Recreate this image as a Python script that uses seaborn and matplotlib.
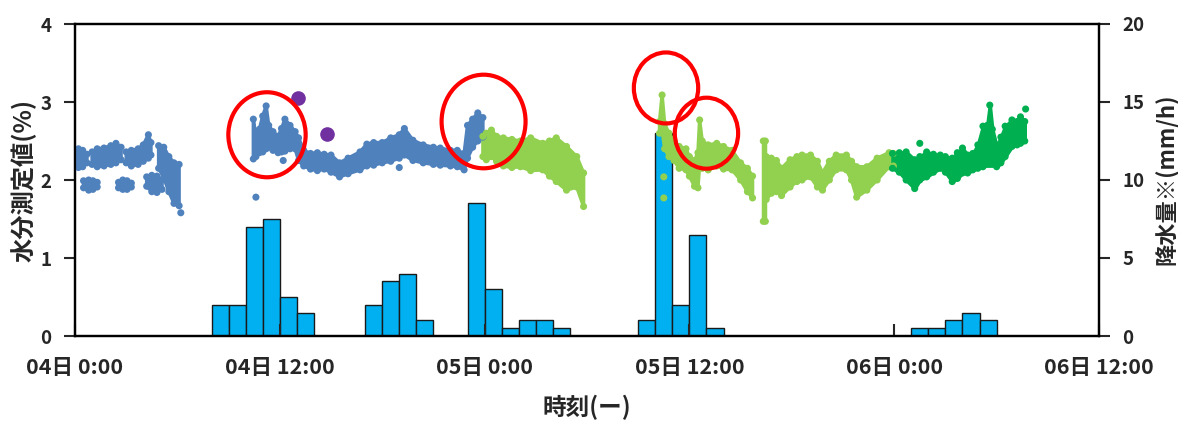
import numpy as np
import pandas as pd
import matplotlib
matplotlib.use("Agg")
import matplotlib.pyplot as plt
import seaborn as sns
from matplotlib.patches import Ellipse

nan = np.nan

# hourly rainfall (bar left edge in hours from 04日 0:00, mm/h)
rain_hour = [8, 9, 10, 11, 12, 13,
             17, 18, 19, 20,
             23, 24, 25, 26, 27, 28,
             33, 34, 35, 36, 37,
             49, 50, 51, 52, 53]
rain_mm = [2.0, 2.0, 7.0, 7.5, 2.5, 1.5,
           2.0, 3.5, 4.0, 1.0,
           8.5, 3.0, 0.5, 1.0, 1.0, 0.5,
           1.0, 13.0, 2.0, 6.5, 0.5,
           0.5, 0.5, 1.0, 1.5, 1.0]

# moisture readings (%): band of scattered points, lower / upper edge; NaN splits blobs
blue_t = [0.0, 0.2, 0.45, 0.7, nan,
          0.5, 0.8, 1.05, 1.3, nan,
          1.0, 1.3, 1.7, 2.1, 2.4, 2.7, nan,
          2.55, 2.8, 3.05, 3.3, nan,
          3.0, 3.3, 3.7, 4.0, 4.3, 4.45, nan,
          4.2, 4.5, 4.8, 5.1, nan,
          4.9, 5.2, 5.5, 5.8, 6.1, nan,
          10.45, 10.6, 10.8, 11.0, 11.2, 11.35, 11.6, 11.9, 12.1, 12.3, 12.6,
          12.9, 13.1, 13.4, 13.8, 14.2, 14.6, 15.0, 15.5, 16.0, 16.7, 17.1,
          17.5, 18.0, 18.5, 19.0, 19.3, 19.8, 20.4, 21.0, 21.4, 22.0, 22.4,
          22.8, 23.0, 23.3, 23.6, 23.9]
blue_lo = [2.18, 2.16, 2.17, 2.22, nan,
           1.90, 1.87, 1.88, 1.91, nan,
           2.20, 2.17, 2.18, 2.20, 2.22, 2.26, nan,
           1.90, 1.88, 1.88, 1.91, nan,
           2.22, 2.18, 2.20, 2.24, 2.28, 2.32, nan,
           1.92, 1.85, 1.84, 1.88, nan,
           2.15, 2.03, 1.85, 1.70, 1.67, nan,
           2.27, 2.30, 2.35, 2.36, 2.40, 2.42, 2.38, 2.35, 2.36, 2.37, 2.40,
           2.40, 2.25, 2.18, 2.14, 2.12, 2.14, 2.10, 2.04, 2.08, 2.13, 2.18,
           2.19, 2.22, 2.24, 2.28, 2.32, 2.25, 2.22, 2.20, 2.19, 2.18, 2.17,
           2.13, 2.28, 2.42, 2.50, 2.55]
blue_hi = [2.36, 2.40, 2.38, 2.33, nan,
           1.99, 2.00, 1.99, 1.97, nan,
           2.36, 2.40, 2.41, 2.44, 2.47, 2.42, nan,
           1.97, 2.00, 1.99, 1.96, nan,
           2.36, 2.38, 2.40, 2.45, 2.58, 2.48, nan,
           2.04, 2.06, 2.05, 2.00, nan,
           2.44, 2.42, 2.30, 2.22, 2.20, nan,
           2.78, 2.55, 2.65, 2.82, 2.95, 2.70, 2.62, 2.56, 2.66, 2.78, 2.70,
           2.62, 2.54, 2.38, 2.34, 2.35, 2.33, 2.32, 2.22, 2.28, 2.36, 2.46,
           2.48, 2.48, 2.54, 2.58, 2.66, 2.51, 2.45, 2.42, 2.41, 2.38, 2.38,
           2.34, 2.70, 2.78, 2.86, 2.80]
blue_extra_t = [6.2, 10.6, 12.2, 19.0]
blue_extra_v = [1.58, 1.78, 2.25, 2.16]

lgreen_t = [23.9, 24.1, 24.4, 24.7, 25.1, 25.6, 26.1, 26.7, 27.4, 27.8, 28.2,
            28.8, 29.4, 29.8, nan,
            34.25, 34.4, 34.55, 34.8, 35.1, 35.4, 35.8, 36.0, 36.3, 36.5, 36.6,
            36.75, 37.1, 37.6, 38.0, 38.5, 39.0, 39.4, 39.7, nan,
            40.33, 40.45, nan,
            40.5, 40.8, 41.1, 41.4, 41.9, 42.3, 42.6, 43.1, 43.5, 43.8, 44.2,
            44.6, 45.2, 45.5, 45.8, 46.4, 47.0, 47.7, 47.95]
lgreen_lo = [2.30, 2.26, 2.30, 2.24, 2.18, 2.16, 2.17, 2.12, 2.13, 2.05, 1.98,
             1.87, 1.91, 1.66, nan,
             2.60, 2.64, 2.40, 2.30, 2.25, 2.15, 2.13, 2.05, 1.92, 1.90, 2.20,
             2.15, 2.13, 2.18, 2.14, 2.13, 2.00, 1.85, 1.77, nan,
             1.47, 1.47, nan,
             1.75, 1.83, 1.85, 1.80, 1.91, 1.98, 2.00, 2.04, 1.91, 1.87, 2.00,
             2.13, 2.13, 2.00, 1.78, 1.87, 2.00, 2.17, 2.18]
lgreen_hi = [2.56, 2.60, 2.64, 2.56, 2.54, 2.52, 2.50, 2.54, 2.47, 2.50, 2.54,
             2.43, 2.30, 2.09, nan,
             2.75, 3.09, 2.72, 2.60, 2.50, 2.43, 2.40, 2.30, 2.25, 2.35, 2.77,
             2.50, 2.45, 2.47, 2.43, 2.38, 2.22, 2.15, 2.05, nan,
             2.50, 2.50, nan,
             2.30, 2.28, 2.25, 2.15, 2.26, 2.30, 2.32, 2.32, 2.24, 2.09, 2.24,
             2.32, 2.32, 2.24, 2.17, 2.17, 2.28, 2.35, 2.34]
lgreen_extra_t = [34.5, 34.5]
lgreen_extra_v = [2.04, 1.77]

dgreen_t = [47.9, 48.3, 48.7, 49.2, 49.5, 49.9, 50.3, 50.7, 51.0, 51.4, 51.7,
            52.0, 52.3, 52.6, 52.9, 53.2, 53.45, 53.6, 53.75, 54.0, 54.25, 54.5,
            54.9, 55.2, 55.4, 55.65]
dgreen_lo = [2.15, 2.10, 2.00, 1.89, 2.00, 2.04, 2.10, 2.15, 2.10, 1.98, 2.02,
             2.09, 2.09, 2.13, 2.15, 2.17, 2.20, 2.20, 2.20, 2.17, 2.22, 2.30,
             2.43, 2.45, 2.47, 2.50]
dgreen_hi = [2.34, 2.35, 2.36, 2.26, 2.30, 2.36, 2.33, 2.32, 2.30, 2.28, 2.35,
             2.41, 2.32, 2.34, 2.45, 2.69, 2.70, 2.96, 2.65, 2.43, 2.55, 2.69,
             2.77, 2.75, 2.81, 2.75]
dgreen_extra_t = [49.5, 55.7]
dgreen_extra_v = [2.47, 2.91]

purple_t = [13.08, 14.74]
purple_v = [3.05, 2.59]

xtick_hours = [0, 12, 24, 36, 48, 60]
xtick_labels = ["04日 0:00", "04日 12:00", "05日 0:00", "05日 12:00",
                "06日 0:00", "06日 12:00"]

# red circles: (center hour, center %, width h, height %)
circles = [(11.25, 2.58, 4.53, 1.09), (23.94, 2.75, 4.92, 1.20),
           (34.63, 3.18, 3.77, 0.91), (37.0, 2.60, 3.71, 0.91)]

colors = {"blue": "#4F81BD", "lgreen": "#92D050", "dgreen": "#00B050"}

series = {
    "blue": (blue_t, blue_lo, blue_hi, blue_extra_t, blue_extra_v),
    "lgreen": (lgreen_t, lgreen_lo, lgreen_hi, lgreen_extra_t, lgreen_extra_v),
    "dgreen": (dgreen_t, dgreen_lo, dgreen_hi, dgreen_extra_t, dgreen_extra_v),
}

rows = []
for name, (t, lo, hi, et, ev) in series.items():
    for a, b, c in zip(t, lo, hi):
        if not np.isnan(a):
            rows.append((a, b, name))
            rows.append((a, c, name))
    for a, b in zip(et, ev):
        rows.append((a, b, name))
pts = pd.DataFrame(rows, columns=["hour", "value", "series"])

sns.set_style("ticks")
plt.rcParams["font.family"] = ["Noto Sans CJK JP", "DejaVu Sans"]
plt.rcParams["font.weight"] = "bold"

fig = plt.figure(figsize=(11.78, 4.22), dpi=100)
ax = fig.add_axes([75 / 1178, 86 / 422, 1024 / 1178, 312 / 422])
ax2 = ax.twinx()
ax.set_zorder(ax2.get_zorder() + 1)
ax.patch.set_visible(False)

ax2.bar(rain_hour, rain_mm, width=1, align="edge", color="#00B0F0",
        edgecolor="#1a1a1a", linewidth=1)

for name, (t, lo, hi, _, _) in series.items():
    ax.fill_between(t, lo, hi, color=colors[name], edgecolor=colors[name],
                    linewidth=2.5)
sns.scatterplot(data=pts, x="hour", y="value", hue="series", palette=colors,
                s=26, linewidth=0, legend=False, ax=ax)
ax.scatter(purple_t, purple_v, s=90, color="#7030A0", zorder=4)

for cx, cy, w, h in circles:
    ax.add_patch(Ellipse((cx, cy), w, h, fill=False, edgecolor="#FF0000",
                         linewidth=3, zorder=5))

ax.set_xlim(0, 60)
ax.set_ylim(0, 4)
ax2.set_ylim(0, 20)
ax.set_xticks(xtick_hours)
ax.set_xticklabels(xtick_labels)
ax.set_yticks([0, 1, 2, 3, 4])
ax2.set_yticks([0, 5, 10, 15, 20])

ax.tick_params(axis="x", direction="in", length=9, width=1.5, pad=15,
               labelsize=15.5)
ax.tick_params(axis="y", direction="out", length=8, width=1.5, pad=9,
               labelsize=13.5)
ax2.tick_params(axis="y", direction="out", length=8, width=1.5, pad=9,
                labelsize=13.5)
for a in (ax, ax2):
    for sp in a.spines.values():
        sp.set_visible(True)
        sp.set_linewidth(1.6)
        sp.set_color("black")

ax.set_xlabel("時刻(ー)", fontsize=17, fontweight="bold")
ax.set_ylabel("水分測定値(%)", fontsize=17.5, fontweight="bold")
ax2.set_ylabel("降水量※(mm/h)", fontsize=16, fontweight="bold")
ax.xaxis.set_label_coords(0.5, -0.19)
ax.yaxis.set_label_coords(-0.037, 0.5)
ax2.yaxis.set_label_coords(1.0547, 0.503)

fig.savefig("out.png", dpi=100)
